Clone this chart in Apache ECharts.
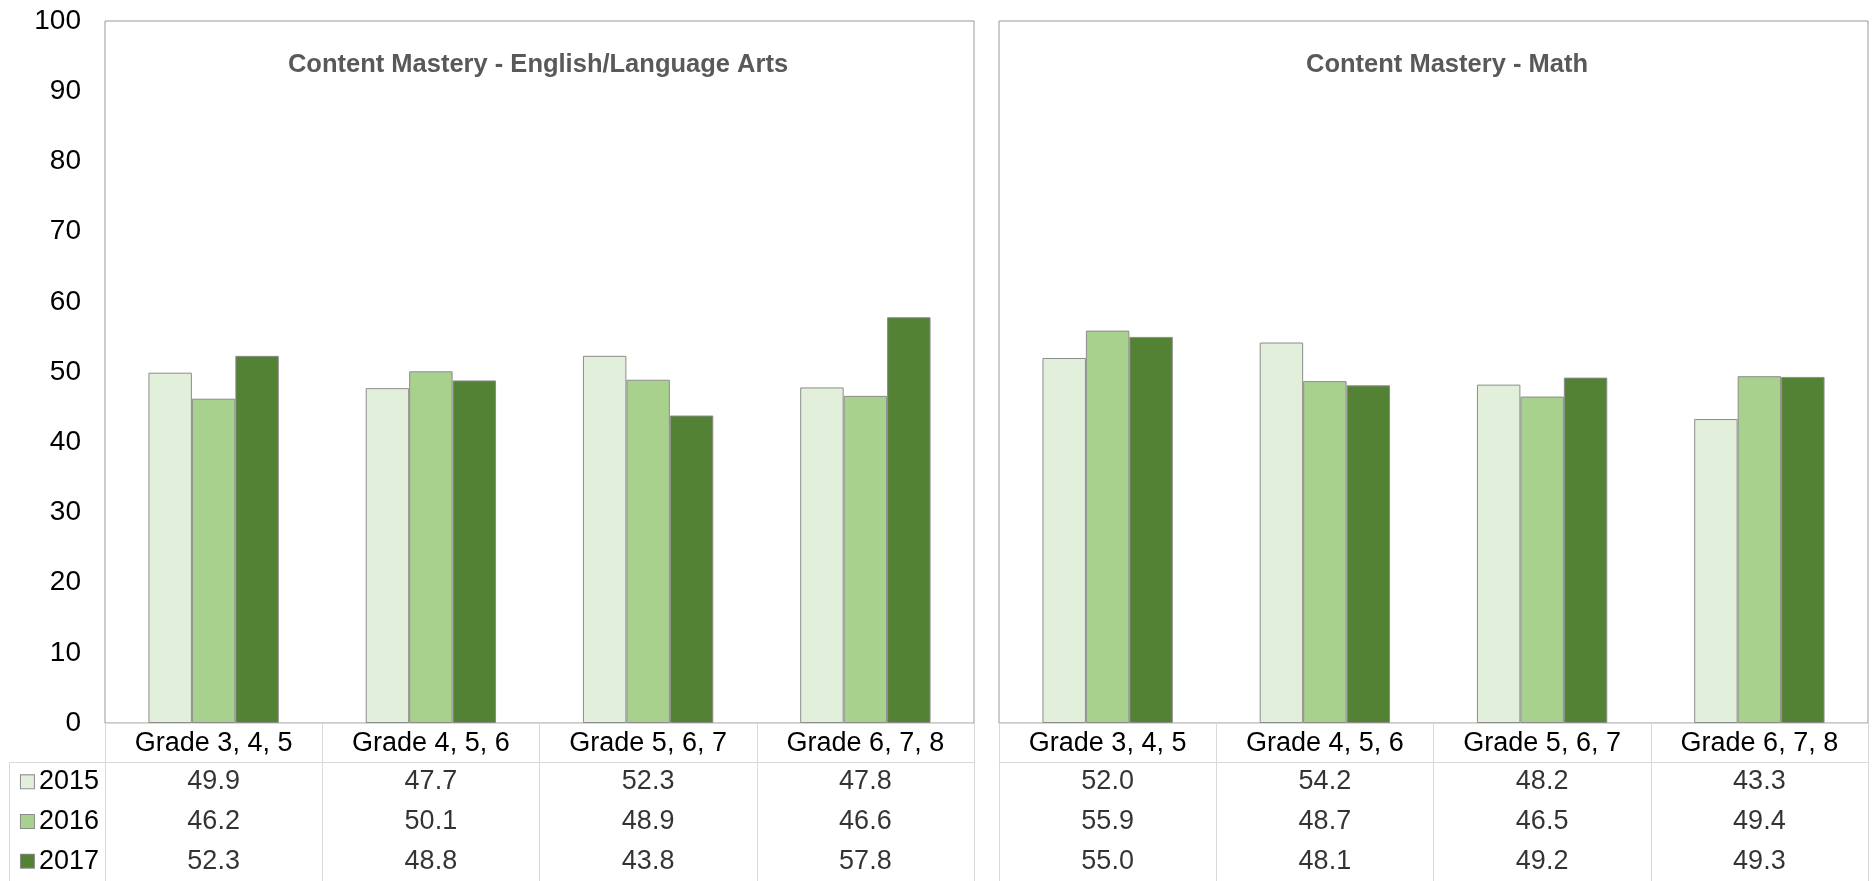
<!DOCTYPE html>
<html>
<head>
<meta charset="utf-8">
<script src="https://cdn.jsdelivr.net/npm/echarts@6/dist/echarts.min.js"></script>
<style>
html,body{margin:0;padding:0;background:#fff;}
#chart{width:1875px;height:881px;}
</style>
</head>
<body>
<div id="chart"></div>
<script>
// ---- data ----
const categories = ['Grade 3, 4, 5', 'Grade 4, 5, 6', 'Grade 5, 6, 7', 'Grade 6, 7, 8'];
const years = ['2015', '2016', '2017'];
const ela2015 = [49.9, 47.7, 52.3, 47.8];
const ela2016 = [46.2, 50.1, 48.9, 46.6];
const ela2017 = [52.3, 48.8, 43.8, 57.8];
const math2015 = [52.0, 54.2, 48.2, 43.3];
const math2016 = [55.9, 48.7, 46.5, 49.4];
const math2017 = [55.0, 48.1, 49.2, 49.3];
const panelTitles = ['Content Mastery - English/Language Arts', 'Content Mastery - Math'];
const yMin = 0, yMax = 100, yInterval = 10;

// ---- styling ----
const FONT = 'Liberation Sans, Arial, sans-serif';
const colors = ['#e2efda', '#a9d18e', '#548235'];
const barBorder = '#8c8c8c';
const panelBorder = '#999999';
const tableLine = '#d9d9d9';

const panels = [
  { vals: [ela2015, ela2016, ela2017], left: 105, titleX: 538 },
  { vals: [math2015, math2016, math2017], left: 999, titleX: 1447 }
];
const W = 869, TOP = 21, PLOT_BOTTOM = 723, TABLE_TOP = 762, H = 881;

const grid = [], xAxis = [], yAxis = [], series = [];

panels.forEach((p, pi) => {
  grid.push({ left: p.left, top: TOP, width: W, height: PLOT_BOTTOM - TOP,
    show: true, borderColor: panelBorder, borderWidth: 1, containLabel: false, outerBoundsMode: 'none' });
  grid.push({ left: p.left, top: TABLE_TOP, width: W, height: H - TABLE_TOP,
    show: false, containLabel: false, outerBoundsMode: 'none' });
  const gMain = pi * 2, gTab = pi * 2 + 1;

  xAxis.push({
    type: 'category', gridIndex: gMain, data: categories, position: 'bottom',
    axisLine: { show: true, lineStyle: { color: tableLine, width: 1 } },
    axisTick: { show: true, length: TABLE_TOP - PLOT_BOTTOM, interval: 0, lineStyle: { color: tableLine } },
    axisLabel: { fontFamily: FONT, fontSize: 27, color: '#000', margin: 7, interval: 0 },
    splitLine: { show: false }
  });
  yAxis.push({
    type: 'value', gridIndex: gMain, min: yMin, max: yMax, interval: yInterval,
    axisLine: { show: false }, axisTick: { show: false }, splitLine: { show: false },
    axisLabel: { show: pi === 0, fontFamily: FONT, fontSize: 28, color: '#000', margin: 24 }
  });

  xAxis.push({
    type: 'category', gridIndex: gTab, data: categories, position: 'top',
    axisLine: { show: true, lineStyle: { color: tableLine, width: 1 } },
    axisTick: { show: false }, axisLabel: { show: false },
    splitLine: { show: true, interval: 0, lineStyle: { color: tableLine, width: 1 } }
  });
  yAxis.push({
    type: 'category', gridIndex: gTab, data: years, inverse: true,
    axisLine: { show: false }, axisTick: { show: false }, splitLine: { show: false },
    axisLabel: pi === 0 ? {
      show: true, margin: 6, align: 'right',
      formatter: (v, i) => '{s' + i + '|}{g|}' + v,
      rich: {
        s0: { width: 13, height: 13, backgroundColor: colors[0], borderColor: barBorder, borderWidth: 1 },
        s1: { width: 13, height: 13, backgroundColor: colors[1], borderColor: barBorder, borderWidth: 1 },
        s2: { width: 13, height: 13, backgroundColor: colors[2], borderColor: barBorder, borderWidth: 1 },
        g: { width: 5 }
      },
      fontFamily: FONT, fontSize: 27, color: '#000'
    } : { show: false }
  });

  p.vals.forEach((arr, si) => {
    series.push({
      type: 'bar', name: years[si], xAxisIndex: gMain, yAxisIndex: gMain,
      data: arr, barGap: '0%', barCategoryGap: '40%',
      itemStyle: { color: colors[si], borderColor: barBorder, borderWidth: 1 },
      animation: false
    });
  });

  const tableData = [];
  p.vals.forEach((arr, si) => arr.forEach((v, ci) => tableData.push([ci, si, v])));
  series.push({
    type: 'scatter', xAxisIndex: gTab, yAxisIndex: gTab,
    data: tableData, encode: { x: 0, y: 1 },
    symbolSize: 1, itemStyle: { color: 'rgba(0,0,0,0)' },
    label: { show: true, position: 'inside', fontFamily: FONT, fontSize: 27, color: '#000',
      formatter: pr => pr.value[2].toFixed(1) },
    silent: true, animation: false
  });
});

const chart = echarts.init(document.getElementById('chart'), null, { renderer: 'canvas' });
chart.setOption({
  backgroundColor: '#fff',
  animation: false,
  grid, xAxis, yAxis, series,
  graphic: [
    { type: 'line', shape: { x1: 9, y1: TABLE_TOP + 0.5, x2: 105, y2: TABLE_TOP + 0.5 }, style: { stroke: tableLine, lineWidth: 1 } },
    { type: 'line', shape: { x1: 9.5, y1: TABLE_TOP, x2: 9.5, y2: H }, style: { stroke: tableLine, lineWidth: 1 } },
    { type: 'line', shape: { x1: 974.5, y1: PLOT_BOTTOM, x2: 974.5, y2: H }, style: { stroke: tableLine, lineWidth: 1 } },
    { type: 'line', shape: { x1: 999.5, y1: PLOT_BOTTOM, x2: 999.5, y2: H }, style: { stroke: tableLine, lineWidth: 1 } },
    { type: 'text', x: panels[0].titleX, y: 65, style: { text: panelTitles[0], align: 'center', verticalAlign: 'middle',
      font: 'bold 25.5px ' + FONT, fill: '#595959' } },
    { type: 'text', x: panels[1].titleX, y: 65, style: { text: panelTitles[1], align: 'center', verticalAlign: 'middle',
      font: 'bold 25.5px ' + FONT, fill: '#595959' } }
  ]
});
</script>
</body>
</html>
